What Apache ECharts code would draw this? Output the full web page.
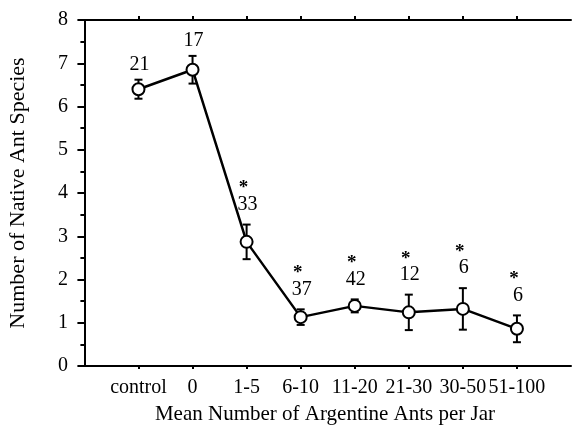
<!DOCTYPE html>
<html lang="en">
<head>
    <meta charset="UTF-8">
    <script src="https://cdn.jsdelivr.net/npm/echarts@6/dist/echarts.min.js"></script>
    <title>Native ant species vs Argentine ants</title>
    <style>
        html,body{
            height:100%;
            width:100%;
            margin:0;
            padding:0;
            background:#fff;
        }
    </style>
</head>
<body>
    <div id="main" style="width:573px;height:425px"></div>
    <script>
        // data
        var groups = ['control', '0', '1-5', '6-10', '11-20', '21-30', '30-50', '51-100'];
        var means = [6.4, 6.85, 2.87, 1.13, 1.39, 1.24, 1.32, 0.86];
        var errs = [0.22, 0.32, 0.4, 0.18, 0.15, 0.41, 0.48, 0.31];
        var sampleSizes = [21, 17, 33, 37, 42, 12, 6, 6];
        var significant = [false, false, true, true, true, true, true, true];
        var yTicks = [0, 1, 2, 3, 4, 5, 6, 7, 8];

        var font = 'Liberation Serif';
        var positions = groups.map(function (g, i) { return i + 1; });

        var lineData = means.map(function (m, i) { return [positions[i], m]; });
        var barData = means.map(function (m, i) {
            return [positions[i], m - errs[i], m + errs[i], sampleSizes[i], significant[i] ? 1 : 0];
        });

        function renderBar(params, api) {
            var x = api.value(0);
            var lo = api.coord([x, api.value(1)]);
            var hi = api.coord([x, api.value(2)]);
            var cap = 4;
            var style = { stroke: '#000', lineWidth: 2 };
            var star = api.value(4) === 1;
            var numY = hi[1] - (star ? 20 : 15);
            var kids = [
                { type: 'line', shape: { x1: lo[0], y1: lo[1], x2: hi[0], y2: hi[1] }, style: style },
                { type: 'line', shape: { x1: lo[0] - cap, y1: lo[1], x2: lo[0] + cap, y2: lo[1] }, style: style },
                { type: 'line', shape: { x1: hi[0] - cap, y1: hi[1], x2: hi[0] + cap, y2: hi[1] }, style: style },
                { type: 'text', style: { x: hi[0] + 1, y: numY, text: String(api.value(3)),
                    font: '20px "' + font + '"', fill: '#000', align: 'center', verticalAlign: 'middle' } }
            ];
            if (star) {
                kids.push({ type: 'text', style: { x: hi[0] - 3, y: numY - 16, text: '*',
                    font: 'bold 19px "' + font + '"', fill: '#000', align: 'center', verticalAlign: 'middle' } });
            }
            return { type: 'group', children: kids };
        }

        var myChart = echarts.init(document.getElementById('main'));
        var option = {
            animation: false,
            textStyle: { fontFamily: font },
            grid: { left: 79, top: 20, right: 2, bottom: 59, outerBoundsMode: 'none', containLabel: false },
            xAxis: [{
                type: 'value',
                min: -0.1,
                max: 9,
                name: 'Mean Number of Argentine Ants per Jar',
                nameLocation: 'middle',
                nameGap: 38,
                nameTextStyle: { fontFamily: font, fontSize: 21, color: '#000' },
                axisLine: { lineStyle: { color: '#000', width: 2 } },
                axisTick: { customValues: positions, length: 3, lineStyle: { color: '#000', width: 2 } },
                axisLabel: {
                    customValues: positions,
                    margin: 12,
                    fontFamily: font, fontSize: 20, color: '#000',
                    formatter: function (v) { return groups[Math.round(v) - 1] || ''; }
                },
                splitLine: { show: false }
            }, {
                type: 'value',
                position: 'top',
                min: -0.1,
                max: 9,
                axisLine: { lineStyle: { color: '#000', width: 2 } },
                axisTick: { customValues: positions, length: 4, lineStyle: { color: '#000', width: 2 } },
                axisLabel: { show: false },
                splitLine: { show: false }
            }],
            yAxis: {
                type: 'value',
                min: 0,
                max: 8,
                interval: 1,
                name: 'Number of Native Ant Species',
                nameLocation: 'middle',
                nameGap: 50,
                nameTextStyle: { fontFamily: font, fontSize: 22, color: '#000' },
                axisLine: { show: true, lineStyle: { color: '#000', width: 2 } },
                axisTick: { customValues: yTicks, length: 7, lineStyle: { color: '#000', width: 2 } },
                minorTick: { show: true, splitNumber: 2, length: 4, lineStyle: { color: '#000', width: 2 } },
                axisLabel: { margin: 11, fontFamily: font, fontSize: 20, color: '#000' },
                splitLine: { show: false }
            },
            series: [{
                type: 'custom',
                renderItem: renderBar,
                data: barData,
                z: 1
            }, {
                type: 'line',
                data: lineData,
                symbol: 'circle',
                symbolSize: 12,
                lineStyle: { color: '#000', width: 2.5 },
                itemStyle: { color: '#fff', borderColor: '#000', borderWidth: 2 },
                z: 2
            }]
        };
        myChart.setOption(option);
    </script>
</body>
</html>
